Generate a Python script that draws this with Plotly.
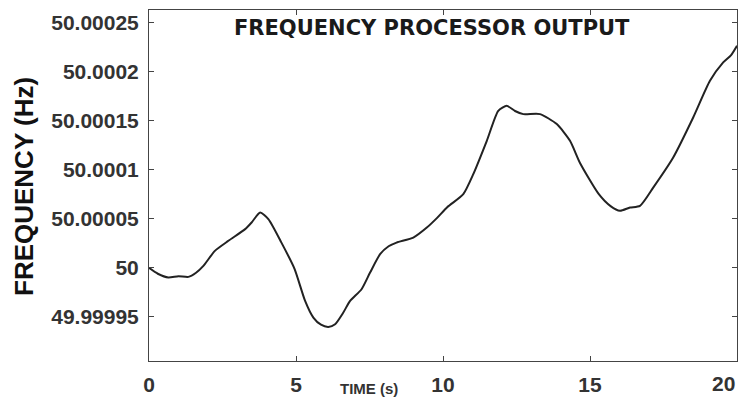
import plotly.graph_objects as go

time_s = [0, 0.3, 0.66, 1.0, 1.34, 1.6, 1.85, 2.24, 2.7, 3.27, 3.49, 3.78, 4.06, 4.5,
          4.95, 5.31, 5.59, 5.85, 6.1, 6.33, 6.6, 6.84, 7.23, 7.52, 7.86, 8.15, 8.42,
          8.99, 9.45, 9.8, 10.15, 10.69, 11.03, 11.49, 11.88, 12.17, 12.45, 12.73, 13.3,
          13.87, 14.32, 14.66, 15.3, 15.7, 16.02, 16.36, 16.7, 17.15, 17.83, 18.51,
          19.08, 19.53, 19.8, 20.0]
dev_1e5 = [0, -0.6, -0.99, -0.85, -0.92, -0.5, 0.2, 1.73, 2.76, 3.95, 4.63, 5.64, 4.97, 2.6,
           -0.1, -3.37, -5.07, -5.8, -6.02, -5.75, -4.6, -3.37, -2.18, -0.48, 1.39, 2.2, 2.58,
           3.09, 4.11, 5.1, 6.2, 7.52, 9.56, 12.96, 16.02, 16.53, 16.0, 15.68, 15.68,
           14.66, 12.96, 10.7, 7.52, 6.3, 5.82, 6.15, 6.33, 8.19, 11.26, 15.34,
           19.08, 20.95, 21.7, 22.65]
freq_hz = [50 + d * 1e-5 for d in dev_1e5]

y_tickvals = [49.99995, 50, 50.00005, 50.0001, 50.00015, 50.0002, 50.00025]
y_ticktext = ["49.99995", "50", "50.00005", "50.0001", "50.00015", "50.0002", "50.00025"]
x_tickvals = [0, 5, 10, 15, 20]
x_ticktext = ["0", "5", "10", "15", ""]
x_last_label = "20"

fig = go.Figure()
fig.add_trace(go.Scatter(x=time_s, y=freq_hz, mode="lines",
                         line=dict(color="#222222", width=2, shape="spline", smoothing=0.6),
                         hoverinfo="skip", showlegend=False))

W, H = 738, 400
L, R, T, B = 149, 1, 10, 39
pw = W - L - R
ph = H - T - B

tickfont = dict(family="Liberation Sans, Arial", size=21, color="#333333", weight="bold")
axis_common = dict(showgrid=False, zeroline=False, showline=True, linecolor="#444444",
                   linewidth=1, mirror="allticks", ticks="inside", ticklen=5,
                   tickcolor="#444444", tickfont=tickfont)

fig.update_layout(
    width=W, height=H,
    margin=dict(l=L, r=R, t=T, b=B),
    paper_bgcolor="white", plot_bgcolor="white",
    xaxis=dict(range=[0, 20], tickvals=x_tickvals, ticktext=x_ticktext,
               ticklabelstandoff=5, **axis_common),
    yaxis=dict(range=[49.999905, 50.000263], tickvals=y_tickvals, ticktext=y_ticktext,
               ticklabelstandoff=5, **axis_common),
    annotations=[
        dict(text=x_last_label, xref="x", yref="paper", x=x_tickvals[-1],
             y=(H - B - 384) / ph, xanchor="right", yanchor="middle", showarrow=False,
             font=tickfont),
        dict(text="FREQUENCY PROCESSOR OUTPUT", xref="paper", yref="paper",
             x=(432 - L) / pw, y=(H - B - 28) / ph, xanchor="center", yanchor="middle",
             showarrow=False,
             font=dict(family="DejaVu Sans", size=21, color="#1a1a1a", weight="bold")),
        dict(text="FREQUENCY (Hz)", xref="paper", yref="paper", textangle=-90,
             x=(24 - L) / pw, y=(H - B - 187) / ph, xanchor="center", yanchor="middle",
             showarrow=False,
             font=dict(family="Liberation Sans, Arial", size=26, color="#111111",
                       weight="bold")),
        dict(text="TIME (s)", xref="paper", yref="paper",
             x=(369 - L) / pw, y=(H - B - 388) / ph, xanchor="center", yanchor="middle",
             showarrow=False,
             font=dict(family="Liberation Sans, Arial", size=15, color="#333333",
                       weight="bold")),
    ],
)

fig.write_html("out.html")
